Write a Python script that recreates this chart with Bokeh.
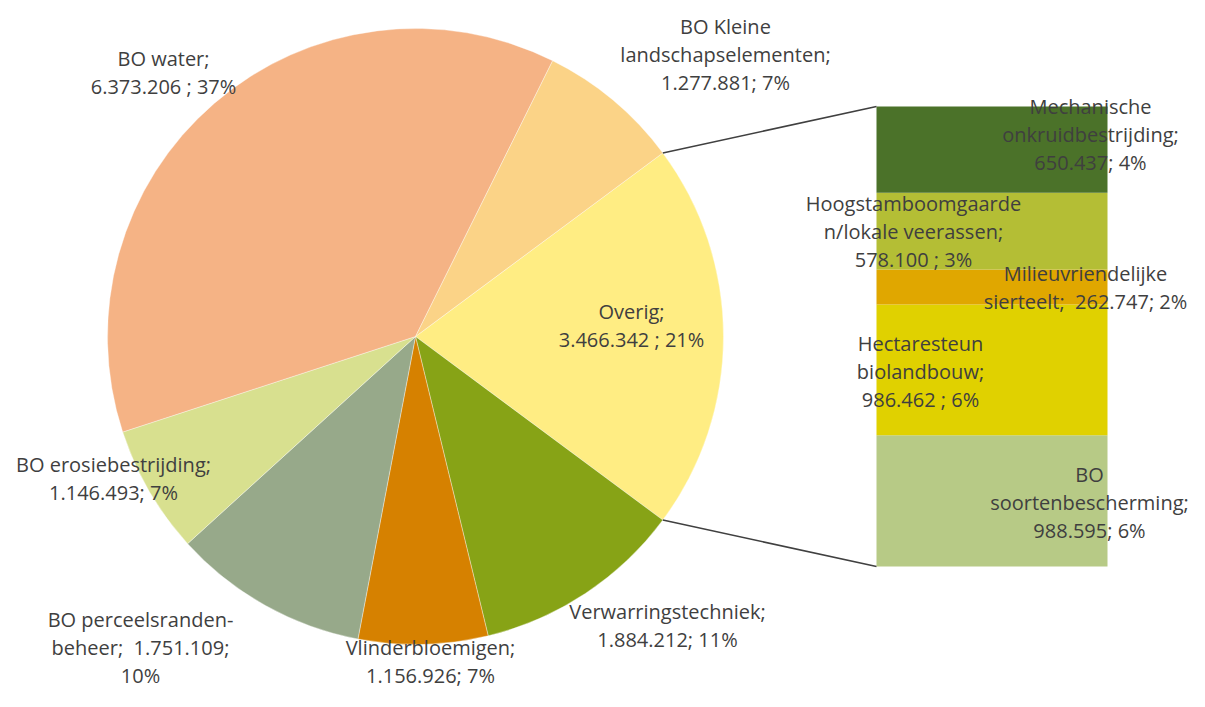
import math
from bokeh.plotting import figure
from bokeh.models import Range1d, ColumnDataSource
from bokeh.core.properties import value
from bokeh.embed import file_html
from bokeh.resources import INLINE

# ---------------- data ----------------
pie_names = ["Overig", "Verwarringstechniek", "Vlinderbloemigen",
             "BO perceelsranden-beheer", "BO erosiebestrijding",
             "BO water", "BO Kleine landschapselementen"]
pie_values = [3466342, 1884212, 1156926, 1751109, 1146493, 6373206, 1277881]
pie_labels = ["Overig;\n3.466.342 ; 21%",
              "Verwarringstechniek;\n1.884.212; 11%",
              "Vlinderbloemigen;\n1.156.926; 7%",
              "BO perceelsranden-\nbeheer;\u00a0 1.751.109;\n10%",
              "BO erosiebestrijding;\n1.146.493; 7%",
              "BO water;\n6.373.206 ; 37%",
              "BO Kleine\nlandschapselementen;\n1.277.881; 7%"]
pie_colors = ["#FFED83", "#87A316", "#D68100", "#97A98A", "#D8E08F",
              "#F5B385", "#FBD387"]

bar_names = ["BO soortenbescherming", "Hectaresteun biolandbouw",
             "Milieuvriendelijke sierteelt",
             "Hoogstamboomgaarden/lokale veerassen",
             "Mechanische onkruidbestrijding"]
bar_values = [988595, 986462, 262747, 578100, 650437]
bar_labels = ["BO\nsoortenbescherming;\n988.595; 6%",
              "Hectaresteun\nbiolandbouw;\n986.462 ; 6%",
              "Milieuvriendelijke\nsierteelt;\u00a0 262.747; 2%",
              "Hoogstamboomgaarde\nn/lokale veerassen;\n578.100 ; 3%",
              "Mechanische\nonkruidbestrijding;\n650.437; 4%"]
bar_colors = ["#B7CA86", "#E0D100", "#E0A700", "#B4BE35", "#4B7229"]

# ---------------- layout (picture pixels) ----------------
W, H = 1189, 691
CX, CY_PAGE, R = 415, 336, 308
BAR_LEFT, BAR_RIGHT, BAR_TOP, BAR_BOT = 876, 1107, 106, 566

pie_label_pos = [(631, 325), (667, 625), (430, 661), (140, 647), (113, 478),
                 (163, 72), (725, 54)]
bar_label_pos = [(1089, 502), (920, 371), (1085, 287), (913, 231), (1090, 134)]

def Y(py):
    return H - py

p = figure(width=W, height=H, output_backend="svg", toolbar_location=None,
           x_range=Range1d(0, W), y_range=Range1d(0, H),
           min_border=0, outline_line_color=None)
p.axis.visible = False
p.grid.visible = False
p.background_fill_color = "white"

# ---- pie ----
total = float(sum(pie_values))
half = math.pi * pie_values[0] / total
starts, ends = [], []
cur = half
for v in pie_values:
    a = 2 * math.pi * v / total
    ends.append(cur)
    starts.append(cur - a)
    cur -= a
pie_src = ColumnDataSource(dict(start=starts, end=ends, color=pie_colors,
                                name=pie_names))
p.wedge(x=CX, y=Y(CY_PAGE), radius=R, start_angle="start", end_angle="end",
        fill_color="color", line_color="white", line_width=0.6, line_alpha=0.6,
        source=pie_src)

# ---- bar of pie (own value scale) ----
bar_total = float(sum(bar_values))
k = bar_total / (BAR_BOT - BAR_TOP)
p.extra_y_ranges = {"bar": Range1d(start=(BAR_BOT - H) * k,
                                   end=BAR_BOT * k)}
bottoms, tops = [], []
acc = 0.0
for v in bar_values:
    bottoms.append(acc)
    acc += v
    tops.append(acc)
bar_src = ColumnDataSource(dict(bottom=bottoms, top=tops, color=bar_colors,
                                name=bar_names))
p.vbar(x=(BAR_LEFT + BAR_RIGHT) / 2, width=BAR_RIGHT - BAR_LEFT,
       bottom="bottom", top="top", fill_color="color", line_color=None,
       y_range_name="bar", source=bar_src)

# ---- connector lines ----
x1 = CX + R * math.cos(half)
y1 = Y(CY_PAGE) + R * math.sin(half)
x2 = CX + R * math.cos(-half)
y2 = Y(CY_PAGE) + R * math.sin(-half)
p.segment(x0=[x1, x2], y0=[y1, y2], x1=[BAR_LEFT, BAR_LEFT],
          y1=[Y(BAR_TOP), Y(BAR_BOT)], line_color="#404040", line_width=1.5)

# ---- labels ----
lx = [q[0] for q in pie_label_pos + bar_label_pos]
ly = [Y(q[1]) for q in pie_label_pos + bar_label_pos]
p.text(x=lx, y=ly, text=pie_labels + bar_labels, text_align="center",
       text_baseline="middle", text_font=value("Open Sans"),
       text_font_size="20px", text_color="#3F3F3F", text_line_height=1.045)

open("out.html", "w").write(file_html(p, INLINE))
